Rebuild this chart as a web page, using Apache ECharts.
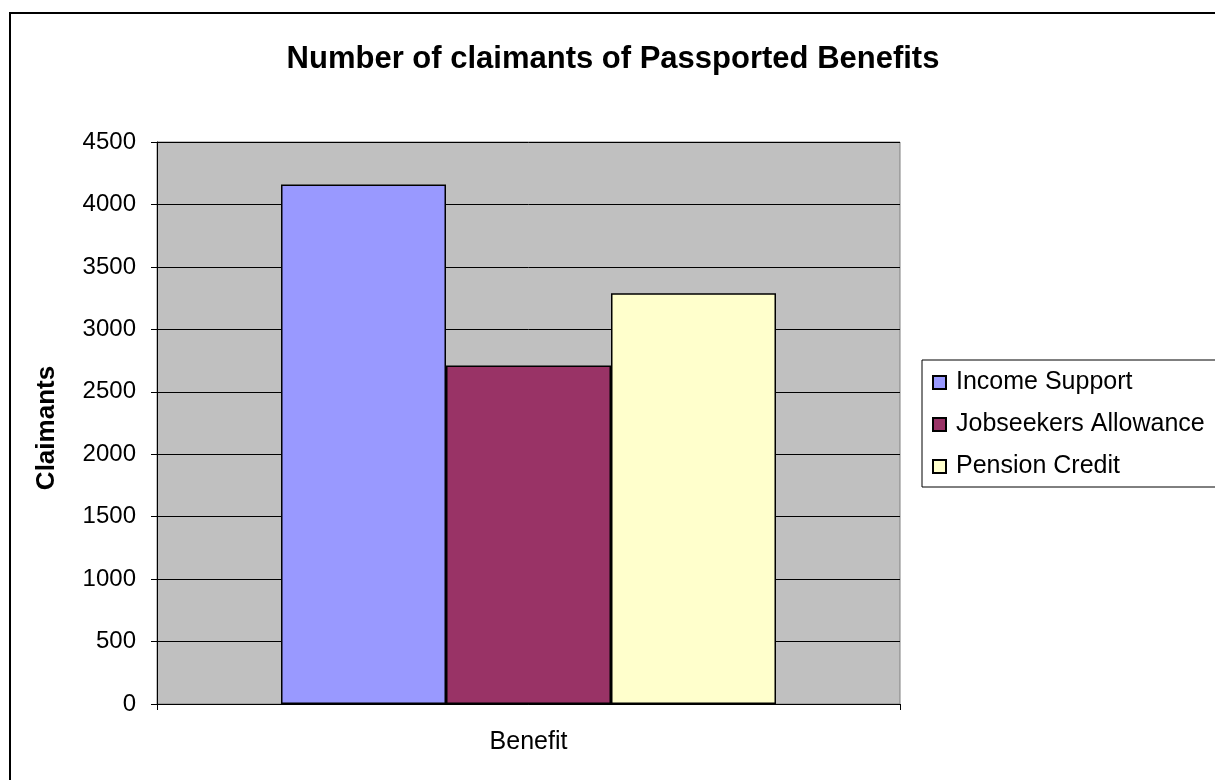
<!DOCTYPE html>
<html>
<head>
<meta charset="utf-8">
<script src="https://cdn.jsdelivr.net/npm/echarts@6/dist/echarts.min.js"></script>
<style>
html,body{margin:0;padding:0;background:#fff;}
#chart{width:1215px;height:780px;}
</style>
</head>
<body>
<div id="chart"></div>
<script>
const categories = ['Benefit'];
const seriesNames = ['Income Support', 'Jobseekers Allowance', 'Pension Credit'];
const incomeSupport = [4160];
const jobseekersAllowance = [2710];
const pensionCredit = [3288];
const colors = ['#9999FF', '#993366', '#FFFFCC'];

const values = [incomeSupport, jobseekersAllowance, pensionCredit];
const font = 'Liberation Sans, Arial, sans-serif';

const chart = echarts.init(document.getElementById('chart'), null, {renderer: 'canvas'});
chart.setOption({
  animation: false,
  backgroundColor: '#ffffff',
  textStyle: {fontFamily: font},
  title: {
    text: 'Number of claimants of Passported Benefits',
    left: 608, top: 39, textAlign: 'center',
    textStyle: {fontFamily: font, fontSize: 31, fontWeight: 'bold', color: '#000'}
  },
  graphic: [
    {type: 'rect', shape: {x: 10, y: 13, width: 1400, height: 1000}, style: {fill: 'none', stroke: '#000', lineWidth: 2}, z: 100},
    {type: 'rect', shape: {x: 157, y: 142, width: 743, height: 562}, style: {fill: '#C0C0C0', stroke: '#808080', lineWidth: 1}, z: -1}
  ],
  legend: {
    orient: 'vertical',
    left: 922, top: 360,
    padding: [10, 30, 8, 10],
    itemWidth: 13, itemHeight: 13, itemGap: 17,
    borderColor: '#000', borderWidth: 1,
    icon: 'rect',
    textStyle: {fontFamily: font, fontSize: 25, color: '#000', padding: [0, 0, 0, 5]},
    data: seriesNames
  },
  grid: {left: 157, right: 315, top: 142, bottom: 76, containLabel: false},
  xAxis: {
    type: 'category',
    data: categories,
    name: 'Benefit',
    nameLocation: 'middle',
    nameGap: 26,
    nameTextStyle: {fontFamily: font, fontSize: 25, color: '#000'},
    axisLine: {lineStyle: {color: '#000', width: 1}},
    axisTick: {show: true, length: 6, lineStyle: {color: '#000'}},
    axisLabel: {show: false}
  },
  yAxis: {
    type: 'value',
    min: 0, max: 4500, interval: 500,
    name: 'Claimants',
    nameLocation: 'middle',
    nameGap: 97,
    nameTextStyle: {fontFamily: font, fontSize: 26, fontWeight: 'bold', color: '#000', padding: [0, 10, 0, 0]},
    axisLine: {show: true, lineStyle: {color: '#000', width: 1}},
    axisTick: {show: true, length: 6, lineStyle: {color: '#000'}},
    axisLabel: {fontFamily: font, fontSize: 24, color: '#000', margin: 21, formatter: v => String(v)},
    splitLine: {lineStyle: {color: '#000', width: 1}}
  },
  series: seriesNames.map((n, i) => ({
    name: n,
    type: 'bar',
    data: values[i],
    barWidth: 165,
    barGap: '0%',
    itemStyle: {color: colors[i], borderColor: '#000', borderWidth: 1.5}
  }))
});
</script>
</body>
</html>
